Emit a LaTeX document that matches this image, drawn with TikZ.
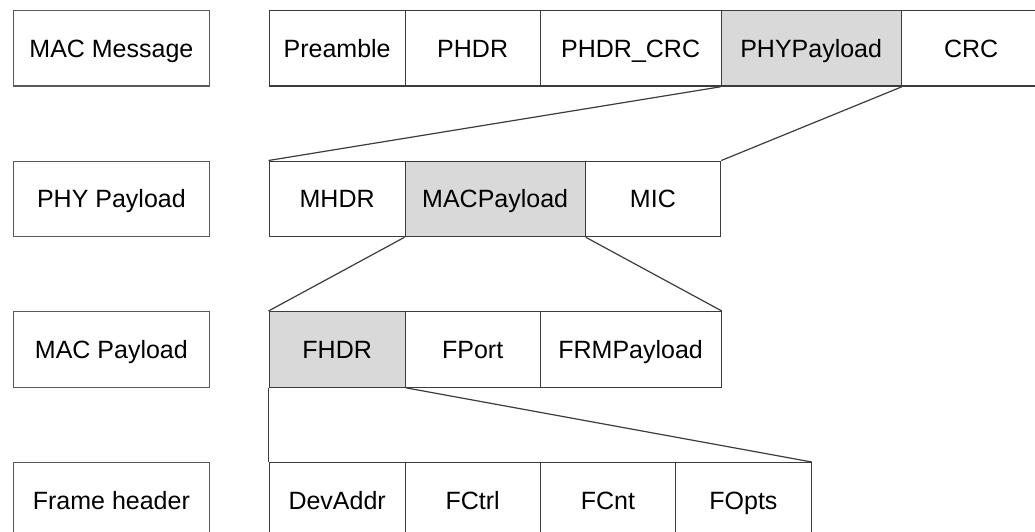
\documentclass[tikz,border=0pt]{standalone}
\usepackage{fontspec}
\setmainfont{Liberation Sans}
\definecolor{edge}{HTML}{3C3C3C}
\definecolor{ledge}{HTML}{5A5A5A}
\definecolor{hl}{HTML}{D9D9D9}
\begin{document}
\begin{tikzpicture}[x=1pt,y=-1pt,
  field/.style={draw=edge, line width=1.3pt, anchor=north west, minimum height=75.5pt, inner sep=0pt, text height=18pt, text depth=0pt, font=\fontsize{25}{30}\selectfont, text=black},
  lbl/.style={field, draw=ledge, minimum width=196.5pt},
  hot/.style={fill=hl},
  link/.style={draw=edge, line width=1.2pt}]
\useasboundingbox (0,0) rectangle (1035,532);
\clip (0,0) rectangle (1035,532);
% left labels
\node[lbl] (l1) at (12.5,10) {MAC Message};
\node[lbl] (l2) at (12.5,160.5) {PHY Payload};
\node[lbl] (l3) at (12.5,311) {MAC Payload};
\node[lbl] (l4) at (12.5,462) {Frame header};
% row 1
\node[field, minimum width=136pt] (pre) at (268.5,10) {Preamble};
\node[field, minimum width=135pt] (phdr) at (404.5,10) {PHDR};
\node[field, minimum width=181pt] (phdrcrc) at (539.5,10) {PHDR\_CRC};
\node[field, hot, minimum width=180pt] (phy) at (720.5,10) {PHYPayload};
\node[field, minimum width=140pt, text width=135pt, align=center] (crc) at (900.5,10) {CRC};
% row 2
\node[field, minimum width=136pt] (mhdr) at (268.5,160.5) {MHDR};
\node[field, hot, minimum width=180pt] (macp) at (404.5,160.5) {MACPayload};
\node[field, minimum width=135.5pt] (mic) at (584.5,160.5) {MIC};
% row 3
\node[field, hot, minimum width=136pt] (fhdr) at (268.5,311) {FHDR};
\node[field, minimum width=135pt] (fport) at (404.5,311) {FPort};
\node[field, minimum width=181pt] (frm) at (539.5,311) {FRMPayload};
% row 4
\node[field, minimum width=136pt] (dev) at (268.5,462) {DevAddr};
\node[field, minimum width=135pt] (fctrl) at (404.5,462) {FCtrl};
\node[field, minimum width=135.5pt] (fcnt) at (539.5,462) {FCnt};
\node[field, minimum width=135.5pt] (fopts) at (675,462) {FOpts};
% connectors
\draw[link] (phy.south west) -- (mhdr.north west);
\draw[link] (phy.south east) -- (mic.north east);
\draw[link] (macp.south west) -- (fhdr.north west);
\draw[link] (macp.south east) -- (frm.north east);
\draw[link] (fhdr.south west) -- (dev.north west);
\draw[link] (fhdr.south east) -- (fopts.north east);
\end{tikzpicture}
\end{document}
